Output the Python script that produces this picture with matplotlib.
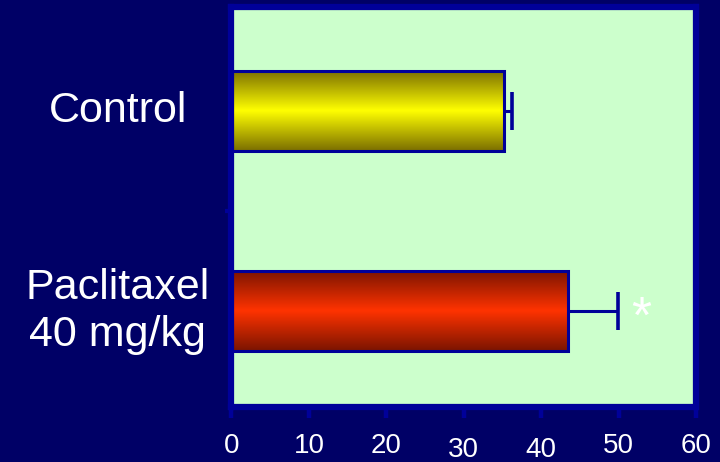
import numpy as np
import matplotlib.pyplot as plt
from matplotlib.colors import LinearSegmentedColormap
import matplotlib.transforms as mtransforms

plt.rcParams["font.family"] = ["Liberation Sans", "DejaVu Sans"]

# data
groups = ["Control", "Paclitaxel\n40 mg/kg"]
values = [35.2, 43.4]
errors = [1.0, 6.5]
significant = [False, True]
xticks = [0, 10, 20, 30, 40, 50, 60]

navy = "#000066"
blue = "#000099"
panel = "#CCFFCC"
bar_grads = [
    ["#7a6e00", "#ffff00", "#7a6e00"],
    ["#7a1400", "#ff3300", "#7a1400"],
]

fig = plt.figure(figsize=(7.2, 4.62), dpi=100, facecolor=navy)
ax = fig.add_axes([0.3215, 0.120, 0.967 - 0.3215, 0.9838 - 0.120])
ax.set_facecolor(panel)

ypos = np.arange(len(groups))
bar_h = 0.4
bars = ax.barh(ypos, values, height=bar_h, facecolor="none",
               edgecolor=blue, linewidth=2.2, zorder=3)

# vertical gradient fill clipped to each bar
for b, cols in zip(bars, bar_grads):
    cmap = LinearSegmentedColormap.from_list("g", cols)
    grad = np.linspace(0, 1, 256).reshape(-1, 1)
    x0, y0 = b.get_x(), b.get_y()
    w, h = b.get_width(), b.get_height()
    im = ax.imshow(grad, cmap=cmap, aspect="auto", extent=[x0, x0 + w, y0 + h, y0],
                   zorder=2, interpolation="bilinear")
    im.set_clip_path(b)

# one-sided error bars (only the upper side is shown)
eb = ax.errorbar(values, ypos, xerr=[np.zeros(len(values)), errors], fmt="none",
                 ecolor=blue, elinewidth=2.2, capsize=14, capthick=2.6, zorder=4)
eb[1][0].set_visible(False)

for y, v, e, s in zip(ypos, values, errors, significant):
    if s:
        ax.text(v + e + 3.0, y + 0.04, "*", color="white", fontsize=37,
                ha="center", va="center", zorder=5)

ax.set_xlim(0, 60)
ax.set_ylim(1.475, -0.5175)

for sp in ax.spines.values():
    sp.set_color(blue)
    sp.set_linewidth(4.5)

ax.set_xticks(xticks)
ax.set_xticklabels([str(t) for t in xticks])
ax.tick_params(axis="x", direction="out", length=8, width=3.2, color=blue,
               labelcolor="white", labelsize=20, pad=11)
# the 30 and 40 labels sit a bit lower in the original
for i in (3, 4):
    lab = ax.get_xticklabels()[i]
    lab.set_transform(lab.get_transform() +
                      mtransforms.ScaledTranslation(0, -3 / 72, fig.dpi_scale_trans))

ax.set_yticks([])
ax.set_yticks([0.5], minor=True)
ax.tick_params(axis="y", which="minor", direction="out", length=4, width=3,
               color=blue, labelleft=False)

for y, g in zip(ypos, groups):
    ax.text(-0.245, y, g, transform=ax.get_yaxis_transform(), color="white",
            fontsize=31, ha="center", va="center", linespacing=1.2)

fig.savefig("out.png", dpi=100, facecolor=navy)
